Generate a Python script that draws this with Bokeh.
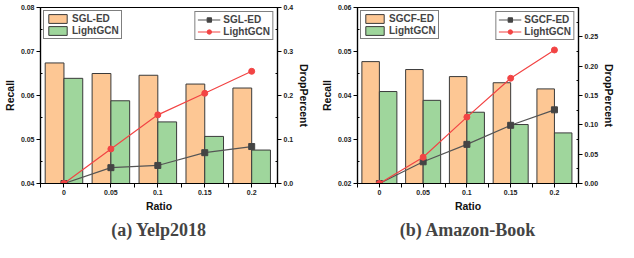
from bokeh.plotting import figure
from bokeh.models import (Range1d, LinearAxis, FixedTicker, NumeralTickFormatter,
                          Legend, LegendItem, ColumnDataSource)
from bokeh.layouts import row
from bokeh.embed import file_html
from bokeh.resources import INLINE

ratios = ["0", "0.05", "0.1", "0.15", "0.2"]

yelp_sgl_recall = [0.0674, 0.0650, 0.0646, 0.0626, 0.0617]
yelp_lgcn_recall = [0.0639, 0.0588, 0.0540, 0.0507, 0.0476]
yelp_sgl_drop = [0.0, 0.036, 0.041, 0.070, 0.084]
yelp_lgcn_drop = [0.0, 0.0785, 0.156, 0.205, 0.255]

amz_sgcf_recall = [0.0477, 0.0459, 0.0443, 0.0429, 0.0415]
amz_lgcn_recall = [0.0409, 0.0389, 0.0362, 0.0334, 0.0315]
amz_sgcf_drop = [0.0, 0.037, 0.0667, 0.0992, 0.1256]
amz_lgcn_drop = [0.0, 0.0448, 0.1132, 0.1794, 0.2276]

FONT = "Liberation Sans"
ORANGE = "#FDC794"
GREEN = "#9FD69C"
GRAY = "#555555"
RED = "#F24444"


def panel(caption, model_name, rec_a, rec_b, drop_a, drop_b,
          rec_range, rec_step, rec_fmt, drop_range, drop_step, drop_fmt,
          width, border_left, border_right):
    idx = list(range(len(ratios)))
    p = figure(width=width, height=242, output_backend="svg", toolbar_location=None,
               x_range=Range1d(-0.5, 4.55), y_range=Range1d(*rec_range),
               min_border_left=border_left, min_border_right=border_right,
               min_border_top=7, min_border_bottom=0)
    p.extra_y_ranges = {"drop": Range1d(*drop_range)}
    p.grid.visible = False
    p.outline_line_color = "black"
    p.outline_line_width = 1.2

    src = ColumnDataSource(dict(
        xa=[i - 0.2 for i in idx], xb=[i + 0.2 for i in idx], x=idx,
        ra=rec_a, rb=rec_b, da=drop_a, db=drop_b))

    ba = p.vbar(x="xa", top="ra", bottom=rec_range[0], width=0.4, source=src,
                fill_color=ORANGE, line_color="#3a3a3a", line_width=1)
    bb = p.vbar(x="xb", top="rb", bottom=rec_range[0], width=0.4, source=src,
                fill_color=GREEN, line_color="#3a3a3a", line_width=1)

    la = p.line(x="x", y="da", source=src, y_range_name="drop", color=GRAY, line_width=1.2)
    ma = p.scatter(x="x", y="da", source=src, y_range_name="drop", marker="square",
                   size=6, fill_color="#444444", line_color="#444444")
    lb = p.line(x="x", y="db", source=src, y_range_name="drop", color=RED, line_width=1.2)
    mb = p.scatter(x="x", y="db", source=src, y_range_name="drop", marker="circle",
                   size=6, fill_color=RED, line_color=RED)

    # x axis
    xa = p.xaxis[0]
    xa.ticker = FixedTicker(ticks=idx, minor_ticks=[i - 0.5 for i in idx] + [4.5])
    xa.major_label_overrides = {i: r for i, r in zip(idx, ratios)}
    xa.axis_label = "Ratio"

    # left axis
    ya = p.yaxis[0]
    n = int(round((rec_range[1] - rec_range[0]) / rec_step))
    ya.ticker = FixedTicker(
        ticks=[rec_range[0] + k * rec_step for k in range(n + 1)],
        minor_ticks=[rec_range[0] + (k + 0.5) * rec_step for k in range(n)])
    ya.formatter = NumeralTickFormatter(format=rec_fmt)
    ya.axis_label = "Recall"

    # right axis
    yr = LinearAxis(y_range_name="drop", axis_label="DropPercent")
    m = int(round((drop_range[1] - drop_range[0]) / drop_step))
    yr.ticker = FixedTicker(
        ticks=[drop_range[0] + k * drop_step for k in range(m + 1)],
        minor_ticks=[drop_range[0] + (k + 0.5) * drop_step for k in range(m)])
    yr.formatter = NumeralTickFormatter(format=drop_fmt)
    p.add_layout(yr, "right")

    for ax in (xa, ya, yr):
        ax.axis_line_color = "black"
        ax.axis_line_width = 1.2
        ax.major_tick_line_color = "black"
        ax.minor_tick_line_color = "black"
        ax.major_tick_out = 4
        ax.major_tick_in = 0
        ax.major_label_text_font = FONT
        ax.major_label_text_font_style = "bold"
        ax.major_label_text_font_size = "7px"
        ax.major_label_text_color = "#222222"
        ax.major_label_standoff = 2
        ax.axis_label_text_font = FONT
        ax.axis_label_text_font_style = "bold"
        ax.axis_label_text_font_size = "10.5px"
        ax.axis_label_text_color = "#111111"
        ax.axis_label_standoff = 2
    xa.minor_tick_out = 4
    xa.minor_tick_in = 0
    for ax in (ya, yr):
        ax.minor_tick_out = 0
        ax.minor_tick_in = 2
    yr.major_label_orientation = "horizontal"

    leg1 = Legend(items=[LegendItem(label=model_name, renderers=[ba]),
                         LegendItem(label="LightGCN", renderers=[bb])],
                  location="top_left")
    leg2 = Legend(items=[LegendItem(label=model_name, renderers=[la, ma]),
                         LegendItem(label="LightGCN", renderers=[lb, mb])],
                  location="top_right")
    for lg in (leg1, leg2):
        lg.label_text_font = FONT
        lg.label_text_font_style = "bold"
        lg.label_text_font_size = "10px"
        lg.label_standoff = 3
        lg.glyph_width = 23
        lg.glyph_height = 11
        lg.label_height = 11
        lg.spacing = 1
        lg.padding = 2
        lg.margin = 3
        lg.border_line_color = "black"
        lg.border_line_width = 1
        lg.background_fill_alpha = 1
        p.add_layout(lg)
    leg2.margin = 4

    p.title.text = caption
    p.title_location = "below"
    p.title.align = "center"
    p.title.text_font = "Liberation Serif"
    p.title.text_font_style = "bold"
    p.title.text_font_size = "18px"
    p.title.standoff = 6
    return p


p1 = panel("(a) Yelp2018", "SGL-ED", yelp_sgl_recall, yelp_lgcn_recall,
           yelp_sgl_drop, yelp_lgcn_drop,
           (0.04, 0.08), 0.01, "0.00", (0.0, 0.4), 0.1, "0.0",
           width=313, border_left=32, border_right=20)
p2 = panel("(b) Amazon-Book", "SGCF-ED", amz_sgcf_recall, amz_lgcn_recall,
           amz_sgcf_drop, amz_lgcn_drop,
           (0.02, 0.06), 0.01, "0.00", (0.0, 0.30), 0.05, "0.00",
           width=305, border_left=44, border_right=18)

layout = row(p1, p2, spacing=0)
open("out.html", "w").write(file_html(layout, INLINE))
